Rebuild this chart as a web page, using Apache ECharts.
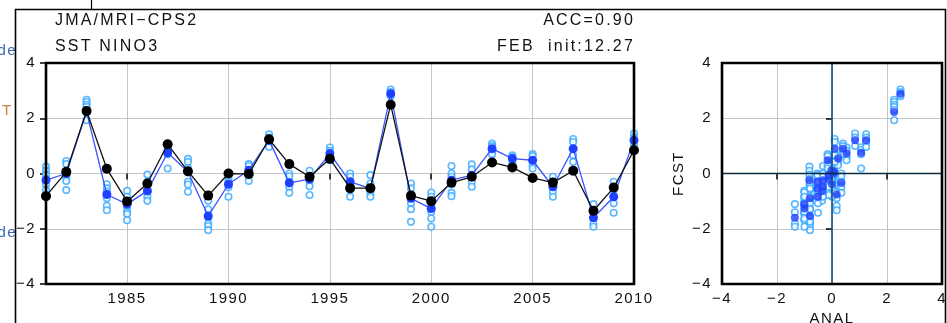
<!DOCTYPE html>
<html>
<head>
<meta charset="utf-8">
<script src="https://cdn.jsdelivr.net/npm/echarts@6/dist/echarts.min.js"></script>
<style>
html,body{margin:0;padding:0;background:#fff;}
#c{width:947px;height:323px;}
</style>
</head>
<body>
<div id="c"></div>
<script>
// ---- data ----
const years = [1981,1982,1983,1984,1985,1986,1987,1988,1989,1990,1991,1992,1993,1994,1995,1996,1997,1998,1999,2000,2001,2002,2003,2004,2005,2006,2007,2008,2009,2010];
const anal = [-0.82,0.06,2.26,0.17,-1.01,-0.36,1.06,0.08,-0.80,0.00,-0.02,1.24,0.34,-0.12,0.53,-0.53,-0.53,2.49,-0.80,-1.00,-0.33,-0.12,0.40,0.22,-0.16,-0.33,0.10,-1.35,-0.51,0.84];
const fcst = [-0.24,0.00,2.23,-0.76,-1.11,-0.63,0.75,0.06,-1.54,-0.39,0.12,1.20,-0.34,-0.20,0.72,-0.30,-0.54,2.89,-0.90,-1.27,-0.24,-0.06,0.90,0.54,0.48,-0.48,0.90,-1.60,-0.84,1.20];
const members = [
  [0.25,0.10,-0.05,-0.20,-0.40,-0.60],
  [0.45,0.34,0.05,-0.06,-0.14,-0.27,-0.60],
  [2.67,2.59,2.49,2.41,2.30,1.93],
  [-0.39,-0.54,-0.66,-0.90,-1.17,-1.33],
  [-0.63,-0.84,-1.00,-1.20,-1.39,-1.47,-1.69],
  [-0.04,-0.30,-0.51,-0.70,-0.84,-0.99],
  [0.95,0.85,0.70,0.18],
  [0.53,0.42,0.20,-0.30,-0.40,-0.66],
  [-0.99,-1.30,-1.60,-1.81,-1.90,-2.05],
  [-0.18,-0.30,-0.50,-0.84],
  [0.34,0.27,0.10,-0.10,-0.27],
  [1.42,1.30,1.15,0.96],
  [0.00,-0.10,-0.30,-0.48,-0.70],
  [0.10,-0.10,-0.27,-0.46,-0.78],
  [0.94,0.82,0.60,0.48],
  [0.00,-0.12,-0.42,-0.60,-0.84],
  [-0.06,-0.36,-0.50,-0.70,-0.84],
  [3.04,2.95,2.85,2.80],
  [-0.36,-0.54,-0.84,-1.08,-1.29,-1.75],
  [-0.69,-0.84,-1.10,-1.39,-1.63,-1.93],
  [0.27,0.00,-0.12,-0.40,-0.70,-0.82],
  [0.33,0.15,-0.10,-0.30,-0.48],
  [1.08,0.99,0.80,0.70],
  [0.66,0.60,0.40,0.30],
  [0.70,0.63,0.30,0.18],
  [-0.12,-0.30,-0.66,-0.84],
  [1.25,1.14,0.66,0.42],
  [-1.11,-1.40,-1.81,-1.93],
  [-0.30,-0.60,-1.08,-1.42],
  [1.45,1.30,1.00]
];
const yearTicks = [1985,1990,1995,2000,2005,2010];
const valTicks = [-4,-2,0,2,4];
const titleLeft = ['JMA/MRI\u2212CPS2','SST NINO3'];
const titleRight = ['ACC=0.90','FEB  init:12.27'];

// wider glyph tracking, as in the reference rendering
(function(){
  const P = CanvasRenderingContext2D.prototype;
  if (!('letterSpacing' in P)) return;
  const ft = P.fillText;
  P.fillText = function(t, x, y, w){
    const m = /(\d+(?:\.\d+)?)px/.exec(this.font);
    const fs = m ? +m[1] : 12;
    const prev = this.letterSpacing;
    this.letterSpacing = fs >= 16 ? '2.2px' : '1.4px';
    const r = w === undefined ? ft.call(this, t, x, y) : ft.call(this, t, x, y, w);
    this.letterSpacing = prev;
    return r;
  };
})();

// ---- build series data ----
const analLine = years.map((y,i)=>[y,anal[i]]);
const fcstLine = years.map((y,i)=>[y,fcst[i]]);
const memTS = [], memSc = [];
years.forEach((y,i)=>{ members[i].forEach(v=>{ memTS.push([y,v]); memSc.push([anal[i],v]); }); });
const meanSc = years.map((y,i)=>[anal[i],fcst[i]]);

const FONT = 'Liberation Sans, Arial, sans-serif';
const minusFmt = v => String(v).replace('-', '\u2212');
const G0 = {left:46, top:63, width:588, height:221};
const G1 = {left:722, top:63, width:220, height:221};
const MEM_COLOR = '#33a8ff';
const MEAN_COLOR = '#2040ff';

const axisCommon = {
  axisLine:{show:false},
  axisTick:{show:true, inside:false, length:6, lineStyle:{color:'#000', width:1.5}},
  axisLabel:{fontSize:15, color:'#111', fontFamily:FONT, formatter:minusFmt},
  splitLine:{show:true, lineStyle:{color:'#c4c4c4', width:1}}
};

const chart = echarts.init(document.getElementById('c'), null, {renderer:'canvas'});
chart.setOption({
  animation:false,
  backgroundColor:'#fff',
  grid:[Object.assign({show:false, outerBoundsMode:'none', containLabel:false}, G0),
        Object.assign({show:false, outerBoundsMode:'none', containLabel:false}, G1)],
  xAxis:[
    Object.assign({}, axisCommon, {
      type:'value', gridIndex:0, min:1981, max:2010,
      axisTick:Object.assign({}, axisCommon.axisTick, {customValues:yearTicks}),
      axisLabel:Object.assign({}, axisCommon.axisLabel, {customValues:yearTicks, margin:7, formatter:v=>String(v)})
    }),
    Object.assign({}, axisCommon, {
      type:'value', gridIndex:1, min:-4, max:4, interval:2,
      axisLabel:Object.assign({}, axisCommon.axisLabel, {margin:7}),
      name:'ANAL', nameLocation:'middle', nameGap:26,
      nameTextStyle:{fontSize:15, color:'#111', fontFamily:FONT}
    })
  ],
  yAxis:[
    Object.assign({}, axisCommon, {
      type:'value', gridIndex:0, min:-4, max:4, interval:2,
      axisLabel:Object.assign({}, axisCommon.axisLabel, {margin:10})
    }),
    Object.assign({}, axisCommon, {
      type:'value', gridIndex:1, min:-4, max:4, interval:2,
      axisLabel:Object.assign({}, axisCommon.axisLabel, {margin:10}),
      name:'FCST', nameLocation:'middle', nameGap:36, nameRotate:90,
      nameTextStyle:{fontSize:15, color:'#111', fontFamily:FONT}
    })
  ],
  series:[
    {type:'scatter', xAxisIndex:0, yAxisIndex:0, data:memTS, symbol:'circle', symbolSize:6.5,
     itemStyle:{color:'#fff', borderColor:MEM_COLOR, borderWidth:1.6}, z:2},
    {type:'line', xAxisIndex:0, yAxisIndex:0, data:fcstLine, symbol:'circle', symbolSize:9, showSymbol:true,
     lineStyle:{color:'#3a55ff', width:1.3}, itemStyle:{color:MEAN_COLOR}, z:3},
    {type:'line', xAxisIndex:0, yAxisIndex:0, data:analLine, symbol:'circle', symbolSize:10, showSymbol:true,
     lineStyle:{color:'#111', width:1.3}, itemStyle:{color:'#000'}, z:4},
    {type:'scatter', xAxisIndex:1, yAxisIndex:1, data:memSc, symbol:'circle', symbolSize:6.5,
     itemStyle:{color:'#fff', borderColor:MEM_COLOR, borderWidth:1.6}, z:2,
     markLine:{silent:true, symbol:'none', label:{show:false},
       data:[{xAxis:0, lineStyle:{color:'#0d5280', width:1.6, type:'solid'}},
             {yAxis:0, lineStyle:{color:'#0a2a40', width:1.4, type:'solid'}}]}},
    {type:'scatter', xAxisIndex:1, yAxisIndex:1, data:meanSc, symbol:'circle', symbolSize:8,
     itemStyle:{color:MEAN_COLOR}, z:3}
  ],
  graphic:[
    // cut-off text from surrounding page
    {type:'text', z:1, silent:true, style:{x:17, y:51, text:'de', font:'15px '+FONT, fill:'#3b68b5', textAlign:'right', textVerticalAlign:'middle'}},
    {type:'text', z:1, silent:true, style:{x:2, y:111, text:'T', font:'15px '+FONT, fill:'#c9853f', textVerticalAlign:'middle'}},
    {type:'text', z:1, silent:true, style:{x:17, y:233, text:'de', font:'15px '+FONT, fill:'#3b68b5', textAlign:'right', textVerticalAlign:'middle'}},
    // outer frame lines
    {type:'line', z:6, silent:true, shape:{x1:15.5, y1:9, x2:15.5, y2:323}, style:{stroke:'#000', lineWidth:1.6}},
    {type:'line', z:6, silent:true, shape:{x1:15, y1:9.5, x2:946, y2:9.5}, style:{stroke:'#000', lineWidth:1.6}},
    {type:'line', z:6, silent:true, shape:{x1:945.5, y1:9, x2:945.5, y2:323}, style:{stroke:'#000', lineWidth:1.6}},
    {type:'line', z:6, silent:true, shape:{x1:91.5, y1:0, x2:91.5, y2:9}, style:{stroke:'#000', lineWidth:1.2}},
    // titles
    {type:'text', z:7, silent:true, style:{x:55, y:21, text:titleLeft[0], font:'16px '+FONT, fill:'#111', textVerticalAlign:'middle'}},
    {type:'text', z:7, silent:true, style:{x:55, y:47, text:titleLeft[1], font:'16px '+FONT, fill:'#111', textVerticalAlign:'middle'}},
    {type:'text', z:7, silent:true, style:{x:635, y:21, text:titleRight[0], font:'16px '+FONT, fill:'#111', textAlign:'right', textVerticalAlign:'middle'}},
    {type:'text', z:7, silent:true, style:{x:635, y:47, text:titleRight[1], font:'16px '+FONT, fill:'#111', textAlign:'right', textVerticalAlign:'middle'}},
    // plot borders
    {type:'rect', z:100, silent:true, shape:{x:G0.left, y:G0.top, width:G0.width, height:G0.height}, style:{fill:null, stroke:'#000', lineWidth:2.6}},
    {type:'rect', z:100, silent:true, shape:{x:G1.left, y:G1.top, width:G1.width, height:G1.height}, style:{fill:null, stroke:'#000', lineWidth:2.6}}
  ]
});
</script>
</body>
</html>
